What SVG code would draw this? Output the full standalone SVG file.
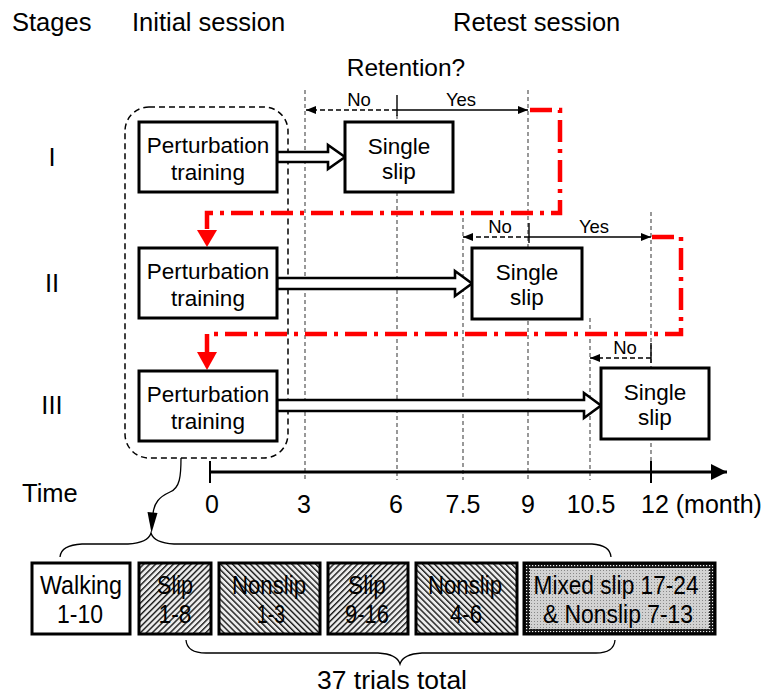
<svg xmlns="http://www.w3.org/2000/svg" width="768" height="693" viewBox="0 0 768 693">
  <style>
    text { font-family: "Liberation Sans", Arial, sans-serif; fill: #000; }
    .hdr { font-size: 25.5px; }
    .mid { text-anchor: middle; }
    .box { fill: #fff; stroke: #000; stroke-width: 3; }
    .lbl { font-size: 22.5px; text-anchor: middle; }
    .small { font-size: 18.5px; text-anchor: middle; }
    .tick { font-size: 25px; text-anchor: middle; }
    .unit { font-size: 25px; text-anchor: start; }
    .blk { font-size: 25px; text-anchor: middle; }
    .grid { stroke: #555; stroke-width: 1.2; stroke-dasharray: 4 3; fill: none; }
    .solid { stroke: #000; stroke-width: 1.4; fill: none; }
    .dash { stroke: #000; stroke-width: 1.4; stroke-dasharray: 5 3; fill: none; }
    .hollow { fill: #fff; stroke: #000; stroke-width: 2.6; stroke-linejoin: miter; }
    .red { stroke: #ff0000; stroke-width: 4.5; fill: none; stroke-dasharray: 22 7 4 7; }
    .redhead { fill: #ff0000; }
    .brace { stroke: #000; stroke-width: 1.3; fill: none; }
  </style>
  <defs>
    <marker id="tip" viewBox="0 0 10 8" refX="10" refY="4" markerWidth="10" markerHeight="8" markerUnits="userSpaceOnUse" orient="auto">
      <path d="M0,0 L10,4 L0,8 Z" fill="#000"/>
    </marker>
    <marker id="axisTip" viewBox="0 0 16 16" refX="16" refY="8" markerWidth="16" markerHeight="16" markerUnits="userSpaceOnUse" orient="auto">
      <path d="M0,0 L16,8 L0,16 Z" fill="#000"/>
    </marker>
    <pattern id="hatchSlip" width="4.2" height="4.2" patternUnits="userSpaceOnUse" patternTransform="rotate(45)">
      <rect width="4.2" height="4.2" fill="#ececec"/>
      <rect width="1.4" height="4.2" fill="#1a1a1a"/>
    </pattern>
    <pattern id="hatchNonslip" width="4.2" height="4.2" patternUnits="userSpaceOnUse" patternTransform="rotate(-45)">
      <rect width="4.2" height="4.2" fill="#ececec"/>
      <rect width="1.4" height="4.2" fill="#1a1a1a"/>
    </pattern>
    <pattern id="darkDots" width="3" height="3" patternUnits="userSpaceOnUse">
      <rect width="3" height="3" fill="#151515"/>
      <rect x="1" y="1" width="1.2" height="1.2" fill="#f0f0f0"/>
    </pattern>
    <pattern id="lightDots" width="3" height="3" patternUnits="userSpaceOnUse">
      <rect width="3" height="3" fill="#d2d2d2"/>
      <rect width="1" height="1" fill="#888"/>
    </pattern>
  </defs>

  <rect width="768" height="693" fill="#fff"/>

  <!-- column and row headings -->
  <g id="headings">
    <text class="hdr" x="12" y="31">Stages</text>
    <text class="hdr" x="132" y="31">Initial session</text>
    <text class="hdr" x="453" y="31">Retest session</text>
    <text class="hdr mid" x="406" y="76" style="font-size:24.5px">Retention?</text>
    <text class="hdr mid" x="52" y="166">I</text>
    <text class="hdr mid" x="52" y="292">II</text>
    <text class="hdr mid" x="52" y="414">III</text>
    <text class="hdr" x="22" y="502">Time</text>
  </g>

  <!-- time grid -->
  <g id="grid">
    <line class="grid" x1="305" y1="90" x2="305" y2="480"/>
    <line class="grid" x1="397" y1="115" x2="397" y2="480"/>
    <line class="grid" x1="528" y1="90" x2="528" y2="480"/>
    <line class="grid" x1="463" y1="218" x2="463" y2="480"/>
    <line class="grid" x1="651" y1="212" x2="651" y2="462"/>
    <line class="grid" x1="590" y1="318" x2="590" y2="480"/>
  </g>

  <!-- time axis -->
  <g id="axis">
    <line x1="210" y1="472" x2="727" y2="472" stroke="#000" stroke-width="3" marker-end="url(#axisTip)"/>
    <line x1="210" y1="461" x2="210" y2="483" stroke="#000" stroke-width="2"/>
    <line x1="651" y1="461" x2="651" y2="483" stroke="#000" stroke-width="2"/>
    <text class="tick" x="212" y="513">0</text>
    <text class="tick" x="304" y="513">3</text>
    <text class="tick" x="396" y="513">6</text>
    <text class="tick" x="463" y="513">7.5</text>
    <text class="tick" x="528" y="513">9</text>
    <text class="tick" x="591" y="513">10.5</text>
    <text class="unit" x="641" y="513">12 (month)</text>
  </g>

  <!-- initial session grouping -->
  <rect id="initial-session" x="125" y="107" width="163" height="351" rx="24" ry="24" fill="none" stroke="#000" stroke-width="1.5" stroke-dasharray="6 4"/>

  <g id="connectors">
    <!-- training to retest arrows -->
    <polygon class="hollow" points="277,152 328,152 328,145 345,157 328,169 328,162 277,162"/>
    <polygon class="hollow" points="277,278 455,278 455,271 472,283.5 455,296 455,289 277,289"/>
    <polygon class="hollow" points="277,400 584,400 584,393 601,405.5 584,418 584,411 277,411"/>

    <!-- retention outcomes -->
    <line class="solid" x1="397" y1="95" x2="397" y2="116"/>
    <line class="dash" x1="397" y1="110" x2="306" y2="110" marker-end="url(#tip)"/>
    <line class="solid" x1="397" y1="110" x2="528" y2="110" marker-end="url(#tip)"/>
    <text class="small" x="359" y="106">No</text>
    <text class="small" x="461" y="106">Yes</text>

    <line class="solid" x1="529" y1="223" x2="529" y2="243"/>
    <line class="dash" x1="529" y1="237" x2="463" y2="237" marker-end="url(#tip)"/>
    <line class="solid" x1="529" y1="237" x2="651" y2="237" marker-end="url(#tip)"/>
    <text class="small" x="500" y="233">No</text>
    <text class="small" x="594" y="233">Yes</text>

    <line class="solid" x1="651" y1="343" x2="651" y2="363"/>
    <line class="dash" x1="651" y1="358" x2="590" y2="358" marker-end="url(#tip)"/>
    <text class="small" x="625" y="354">No</text>

    <!-- progression to next stage -->
    <path class="red" d="M530 110 H560 V213 H207 V231"/>
    <polygon class="redhead" points="197,230 217,230 207,247"/>
    <path class="red" d="M652 237 H681 V334 H207 V353"/>
    <polygon class="redhead" points="197,352 217,352 207,370"/>

    <!-- session expansion -->
    <path class="brace" d="M181 458 C181 476 180 488 170 492 C159 497 154 503 153 514" stroke-width="1.6"/>
    <polygon points="147.5,512 157.5,513 151.5,533" fill="#000"/>
    <path class="brace" d="M60 557 Q61 545 82 544 L128 544 Q148 543 151 533 Q154 543 174 544 L592 544 Q610 545 611 557"/>
    <path class="brace" d="M186 640 Q187 653 206 653 L378 653 Q397 654 400 664 Q403 654 422 653 L596 653 Q614 653 615 640"/>
  </g>

  <!-- stage I -->
  <g id="train-1">
    <rect class="box" x="139" y="122" width="138" height="70"/>
    <text class="lbl" x="208" y="153">Perturbation</text>
    <text class="lbl" x="208" y="180">training</text>
  </g>
  <g id="slip-1">
    <rect class="box" x="345" y="122" width="108" height="70"/>
    <text class="lbl" x="399" y="154">Single</text>
    <text class="lbl" x="399" y="179">slip</text>
  </g>

  <!-- stage II -->
  <g id="train-2">
    <rect class="box" x="139" y="248" width="138" height="70"/>
    <text class="lbl" x="208" y="279">Perturbation</text>
    <text class="lbl" x="208" y="306">training</text>
  </g>
  <g id="slip-2">
    <rect class="box" x="472" y="248" width="110" height="71"/>
    <text class="lbl" x="527" y="280">Single</text>
    <text class="lbl" x="527" y="305">slip</text>
  </g>

  <!-- stage III -->
  <g id="train-3">
    <rect class="box" x="139" y="371" width="138" height="70"/>
    <text class="lbl" x="208" y="402">Perturbation</text>
    <text class="lbl" x="208" y="429">training</text>
  </g>
  <g id="slip-3">
    <rect class="box" x="601" y="368" width="108" height="71"/>
    <text class="lbl" x="655" y="400">Single</text>
    <text class="lbl" x="655" y="425">slip</text>
  </g>

  <!-- trial sequence of the initial session -->
  <g id="walking">
    <rect class="box" x="32" y="563" width="98" height="71"/>
    <text class="blk" x="81" y="594" textLength="82" lengthAdjust="spacingAndGlyphs">Walking</text>
    <text class="blk" x="80" y="623" textLength="46" lengthAdjust="spacingAndGlyphs">1-10</text>
  </g>
  <g id="slip-1-8">
    <rect class="box" x="139" y="563" width="72" height="71" style="fill:url(#hatchSlip)"/>
    <text class="blk" x="175" y="594" textLength="36" lengthAdjust="spacingAndGlyphs">Slip</text>
    <text class="blk" x="175" y="623" textLength="33" lengthAdjust="spacingAndGlyphs">1-8</text>
  </g>
  <g id="nonslip-1-3">
    <rect class="box" x="219" y="563" width="101" height="71" style="fill:url(#hatchNonslip)"/>
    <text class="blk" x="269" y="594" textLength="74" lengthAdjust="spacingAndGlyphs">Nonslip</text>
    <text class="blk" x="271" y="623" textLength="28" lengthAdjust="spacingAndGlyphs">1-3</text>
  </g>
  <g id="slip-9-16">
    <rect class="box" x="328" y="563" width="80" height="71" style="fill:url(#hatchSlip)"/>
    <text class="blk" x="367" y="594" textLength="38" lengthAdjust="spacingAndGlyphs">Slip</text>
    <text class="blk" x="367" y="623" textLength="44" lengthAdjust="spacingAndGlyphs">9-16</text>
  </g>
  <g id="nonslip-4-6">
    <rect class="box" x="416" y="563" width="101" height="71" style="fill:url(#hatchNonslip)"/>
    <text class="blk" x="465" y="594" textLength="74" lengthAdjust="spacingAndGlyphs">Nonslip</text>
    <text class="blk" x="466" y="623" textLength="32" lengthAdjust="spacingAndGlyphs">4-6</text>
  </g>
  <g id="mixed">
    <rect class="box" x="524" y="563" width="191" height="71" style="fill:url(#darkDots)"/>
    <rect x="530" y="568" width="179" height="61" fill="url(#lightDots)"/>
    <text class="blk" x="616" y="594" textLength="165" lengthAdjust="spacingAndGlyphs">Mixed slip 17-24</text>
    <text class="blk" x="618" y="623" textLength="150" lengthAdjust="spacingAndGlyphs">&amp; Nonslip 7-13</text>
  </g>

  <text id="total" class="blk" x="392" y="689" textLength="150" lengthAdjust="spacingAndGlyphs">37 trials total</text>
</svg>
